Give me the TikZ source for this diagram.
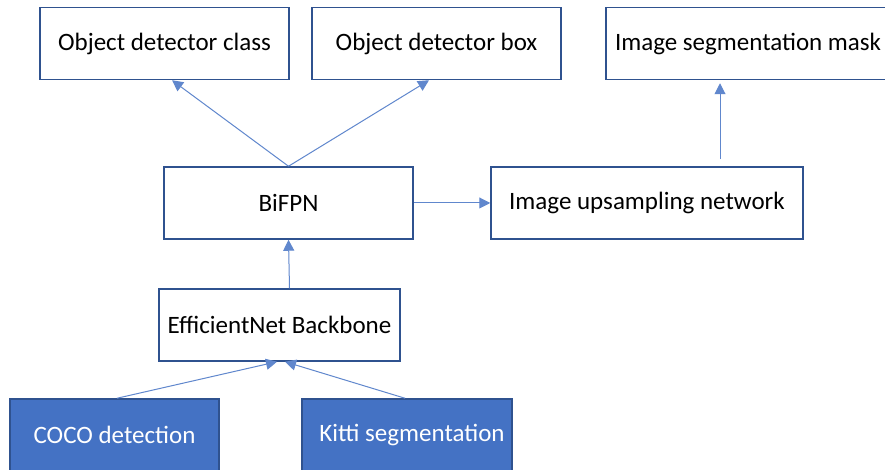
\documentclass[tikz,border=0pt]{standalone}
\usepackage{fontspec}
\setmainfont{Carlito}
\usetikzlibrary{arrows.meta}
\definecolor{boxline}{HTML}{2F528F}
\definecolor{accent}{HTML}{4472C4}
\tikzset{
  blk/.style={draw=boxline, line width=1.5pt, fill=white, minimum height=72pt,
    inner sep=0pt, font=\fontsize{25}{29}\selectfont, text=black},
  srcblk/.style={blk, fill=accent, text=white},
  link/.style={draw=accent!85, line width=1pt, -{Triangle[length=11pt,width=11pt]}}
}
\begin{document}
\begin{tikzpicture}[x=1pt,y=1pt]
\useasboundingbox (0,0) rectangle (885,470);
\clip (0,0) rectangle (885,470);
\fill[white] (0,0) rectangle (885,470);

% output heads
\node[blk, minimum width=249pt] (cls)  at (164.5,426.5) {Object detector class};
\node[blk, minimum width=249pt] (bbox) at (436.5,426.5) {Object detector box};
\node[blk, minimum width=284pt] (mask) at (748,426.5) {Image segmentation mask};

% feature network and decoder
\node[blk, minimum width=249pt] (bifpn) at (288.5,267) {BiFPN};
\node[blk, minimum width=312pt] (ups)   at (647,267) {Image upsampling network};

% backbone
\node[blk, minimum width=241pt] (eff) at (279.5,145) {EfficientNet Backbone};

% datasets
\node[srcblk, minimum width=209pt] (coco)  at (114.5,35) {COCO detection};
\node[srcblk, minimum width=210pt] (kitti) at (407,35) {\hspace*{10pt}Kitti segmentation};

% connectors
\draw[link] (bifpn.north) -- ([xshift=7.5pt]cls.south);
\draw[link] (bifpn.north) -- ([xshift=-7.5pt]bbox.south);
\draw[link] ([xshift=73pt,yshift=7pt]ups.north) -- ([xshift=-28pt,yshift=-3pt]mask.south);
\draw[link] (bifpn.east) -- (ups.west);
\draw[link] ([xshift=10pt]eff.north) -- (bifpn.south);
\draw[link] ([xshift=2.5pt]coco.north) -- ([xshift=-2.5pt]eff.south);
\draw[link] ([xshift=-2pt]kitti.north) -- ([xshift=5.5pt]eff.south);
\end{tikzpicture}
\end{document}
